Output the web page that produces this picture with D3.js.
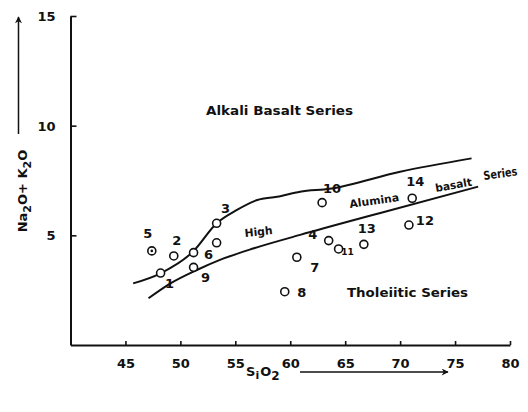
<!DOCTYPE html>
<html>
<head>
<meta charset="utf-8">
<script src="https://cdn.jsdelivr.net/npm/d3@7"></script>
<style>
  html, body { margin: 0; padding: 0; background: #fff; }
  svg { display: block; }
  text { font-family: "DejaVu Sans", sans-serif; font-weight: bold; fill: #111; }
</style>
</head>
<body>
<svg id="chart" width="528" height="412"></svg>
<script>
// Sample numbers and their composition (SiO2 wt%, Na2O+K2O wt%)
const sampleIds = ["1", "2", "3", "4", "5", "6", "7", "8", "9", "10", "11", "12", "13", "14", ""];
const silica    = [48.2, 49.4, 53.3, 63.5, 47.4, 53.3, 60.6, 59.5, 51.2, 62.9, 64.4, 70.8, 66.7, 71.1, 51.2];
const alkalis   = [3.28, 4.06, 5.55, 4.76, 4.29, 4.66, 4.00, 2.43, 3.54, 6.49, 4.38, 5.47, 4.59, 6.69, 4.21];

// Alkali basalt / high-alumina basalt divide
const upperSiO2 = [45.7, 48.2, 51.2, 53.3, 55.15, 57.0, 58.8, 60.9, 63.6, 70.0, 76.5];
const upperAlk  = [2.81, 3.27, 4.28, 5.55, 6.16, 6.61, 6.76, 6.99, 7.12, 7.90, 8.51];
// High-alumina basalt / tholeiitic divide
const lowerSiO2 = [47.1, 49.1, 51.5, 53.6, 56.7, 60.9, 68.2, 77.1];
const lowerAlk  = [2.13, 2.81, 3.42, 3.88, 4.41, 5.02, 6.02, 7.22];

const xTicks = [45, 50, 55, 60, 65, 70, 75, 80];
const yTicks = [5, 10, 15];

// Label placement around each sample marker (pixels)
const labelDx = [9, 3, 9, -16, -4, -8, 18, 17, 12, 10, 9, 16, 3, 3, 0];
const labelDy = [10, -16, -15, -6, -18, 12, 10, 1, 10, -14, 3, -5, -16, -17, 0];

const svg = d3.select("#chart");
const x = d3.scaleLinear().domain([40, 80]).range([70.5, 510]);
const y = d3.scaleLinear().domain([0, 15]).range([345, 16]);

// Axes with inward ticks
const xAxis = svg.append("g")
  .attr("transform", `translate(0,${y(0)})`)
  .call(d3.axisBottom(x).tickValues(xTicks).tickSizeInner(-4).tickSizeOuter(0).tickPadding(18));
const yAxis = svg.append("g")
  .attr("transform", `translate(${x(40)},0)`)
  .call(d3.axisLeft(y).tickValues(yTicks).tickSizeInner(-6).tickSizeOuter(0).tickPadding(15));

[xAxis, yAxis].forEach(g => {
  g.select(".domain").attr("stroke", "#111").attr("stroke-width", 2);
  g.selectAll(".tick line").attr("stroke", "#111").attr("stroke-width", 1.6);
  g.selectAll(".tick text").style("font-size", "13px").attr("fill", "#111")
    .style("font-family", "'DejaVu Sans', sans-serif").style("font-weight", "bold");
});
xAxis.selectAll(".tick text").attr("dy", "0.35em");
yAxis.selectAll(".tick text").attr("dy", "0.35em");

// Dividing curves
const line = d3.line().x(d => x(d[0])).y(d => y(d[1])).curve(d3.curveMonotoneX);
svg.append("path")
  .attr("d", line(d3.zip(upperSiO2, upperAlk)))
  .attr("fill", "none").attr("stroke", "#111").attr("stroke-width", 2);
svg.append("path")
  .attr("d", line(d3.zip(lowerSiO2, lowerAlk)))
  .attr("fill", "none").attr("stroke", "#111").attr("stroke-width", 2);

// Sample markers
const samples = sampleIds.map((id, i) => ({ id, sx: silica[i], ay: alkalis[i], dx: labelDx[i], dy: labelDy[i] }));
const g = svg.append("g");
g.selectAll("circle.sample").data(samples).join("circle")
  .attr("class", "sample")
  .attr("cx", d => x(d.sx)).attr("cy", d => y(d.ay)).attr("r", 4)
  .attr("fill", "#fff").attr("stroke", "#111").attr("stroke-width", 1.6);
// sample 5 carries a centre dot
g.selectAll("circle.dot").data(samples.filter(d => d.id === "5")).join("circle")
  .attr("class", "dot")
  .attr("cx", d => x(d.sx)).attr("cy", d => y(d.ay)).attr("r", 1.3).attr("fill", "#111");

g.selectAll("text.id").data(samples.filter(d => d.id !== "")).join("text")
  .attr("class", "id")
  .attr("x", d => x(d.sx) + d.dx).attr("y", d => y(d.ay) + d.dy)
  .attr("text-anchor", "middle").attr("dy", "0.36em")
  .style("font-size", d => d.id === "11" ? "9px" : "13px")
  .text(d => d.id);

// Field names
function fieldText(t, px, py, w, size, rot) {
  svg.append("text")
    .attr("transform", `translate(${px},${py}) rotate(${rot || 0})`)
    .attr("textLength", w).attr("lengthAdjust", "spacingAndGlyphs")
    .style("font-size", size + "px")
    .text(t);
}
fieldText("Alkali Basalt Series", 206, 115, 147, 12);
fieldText("High", 245, 237, 28, 11, -6);
fieldText("Alumina", 350, 208, 50, 11, -8);
fieldText("basalt", 436, 192, 37, 11, -10);
fieldText("Series", 484, 180, 34, 12, -8);
fieldText("Tholeiitic Series", 347, 297, 121, 12);

// Axis titles with direction arrows
const defs = svg.append("defs");
defs.append("marker").attr("id", "arrow").attr("viewBox", "0 0 10 10")
  .attr("refX", 9).attr("refY", 5).attr("markerWidth", 9).attr("markerHeight", 7)
  .attr("markerUnits", "userSpaceOnUse").attr("orient", "auto")
  .append("path").attr("d", "M0,0 L10,5 L0,10 L3,5 Z").attr("fill", "#111");

const yt = svg.append("text")
  .attr("transform", "translate(27,191) rotate(-90)")
  .attr("text-anchor", "middle")
  .style("font-size", "13px");
yt.append("tspan").text("Na");
yt.append("tspan").attr("dy", 4).style("font-size", "11px").text("2");
yt.append("tspan").attr("dy", -4).text("O+ K");
yt.append("tspan").attr("dy", 4).style("font-size", "11px").text("2");
yt.append("tspan").attr("dy", -4).text("O");

svg.append("line").attr("x1", 18.5).attr("y1", 134).attr("x2", 18.5).attr("y2", 17)
  .attr("stroke", "#111").attr("stroke-width", 1.5).attr("marker-end", "url(#arrow)");

const xt = svg.append("text").attr("x", 246).attr("y", 376).style("font-size", "13px");
xt.append("tspan").text("S");
xt.append("tspan").attr("dy", 3).style("font-size", "11px").text("i");
xt.append("tspan").attr("dy", -3).attr("dx", 1).text("O");
xt.append("tspan").attr("dy", 4).style("font-size", "12px").text("2");

svg.append("line").attr("x1", 300).attr("y1", 372).attr("x2", 448).attr("y2", 372)
  .attr("stroke", "#111").attr("stroke-width", 1.5).attr("marker-end", "url(#arrow)");
</script>
</body>
</html>
